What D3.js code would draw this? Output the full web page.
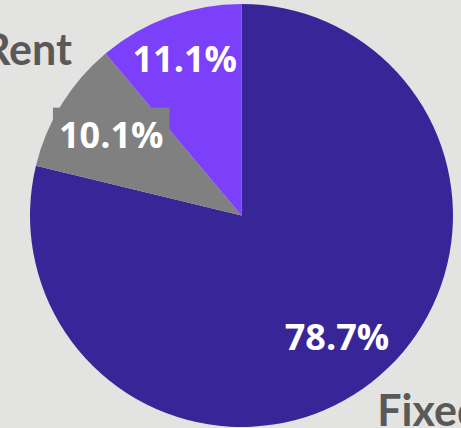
<!DOCTYPE html>
<html>
<head>
<meta charset="utf-8">
<script src="https://cdn.jsdelivr.net/npm/d3@7/dist/d3.min.js"></script>
<style>
  html, body { margin: 0; padding: 0; background: #e3e3e1; }
  svg { display: block; }
</style>
</head>
<body>
<script>
// Budget share by category, drawn clockwise from 12 o'clock
const categories = ["Fixed", "Rent", ""];
const shares = [78.7, 10.1, 11.1];
const sliceColors = ["#382699", "#808080", "#7c3ffa"];
const pctLabels = ["78.7%", "10.1%", "11.1%"];

const W = 461, H = 428;
const cx = 241.5, cy = 215.5, R = 211.5;

const svg = d3.select("body").append("svg")
  .attr("width", W).attr("height", H);

svg.append("rect").attr("width", W).attr("height", H).attr("fill", "#e3e3e1");

const g = svg.append("g").attr("transform", `translate(${cx},${cy})`);

const pie = d3.pie().sort(null).value(d => d.v);
const data = shares.map((v, i) => ({ v, name: categories[i], color: sliceColors[i], pct: pctLabels[i] }));
const arcs = pie(data);

const arc = d3.arc().innerRadius(0).outerRadius(R);

g.selectAll("path.slice").data(arcs).enter().append("path")
  .attr("class", "slice")
  .attr("d", arc)
  .attr("fill", d => d.data.color);

// percentage labels placed along each slice's mid-angle
const labelRadius = [0.73, 0.725, 0.785];
const pctFont = "'Open Sans', 'DejaVu Sans', sans-serif";

arcs.forEach((d, i) => {
  const r = R * labelRadius[i];
  const a = (d.startAngle + d.endAngle) / 2;
  const x = r * Math.sin(a), y = -r * Math.cos(a);
  const lg = g.append("g").attr("transform", `translate(${x},${y})`);
  const t = lg.append("text")
    .attr("text-anchor", "middle")
    .attr("dy", "0.36em")
    .attr("font-family", pctFont)
    .attr("font-weight", 700)
    .attr("font-size", 36)
    .attr("fill", "#ffffff")
    .text(d.data.pct);
  if (i === 1) {
    // label box filled with the slice colour
    const bb = t.node().getBBox();
    lg.insert("rect", "text")
      .attr("x", bb.x - 6).attr("y", bb.y - 2)
      .attr("width", bb.width + 12).attr("height", bb.height + 4)
      .attr("fill", d.data.color);
  }
});

// category names outside the pie
const nameFont = "'Lato', 'DejaVu Sans', sans-serif";
const nameSpec = [
  { r: 1.13, anchor: "start", dx: -12, dy: 23 },
  { r: 1.31, anchor: "end", dx: 66, dy: -4.5 },
  null
];
arcs.forEach((d, i) => {
  const s = nameSpec[i];
  if (!s || !d.data.name) return;
  const a = (d.startAngle + d.endAngle) / 2;
  const x = R * s.r * Math.sin(a), y = -R * s.r * Math.cos(a);
  g.append("text")
    .attr("x", x + s.dx).attr("y", y + s.dy)
    .attr("text-anchor", s.anchor)
    .attr("font-family", nameFont)
    .attr("font-weight", 700)
    .attr("font-size", 43)
    .attr("fill", "#595959")
    .text(d.data.name);
});
</script>
</body>
</html>
